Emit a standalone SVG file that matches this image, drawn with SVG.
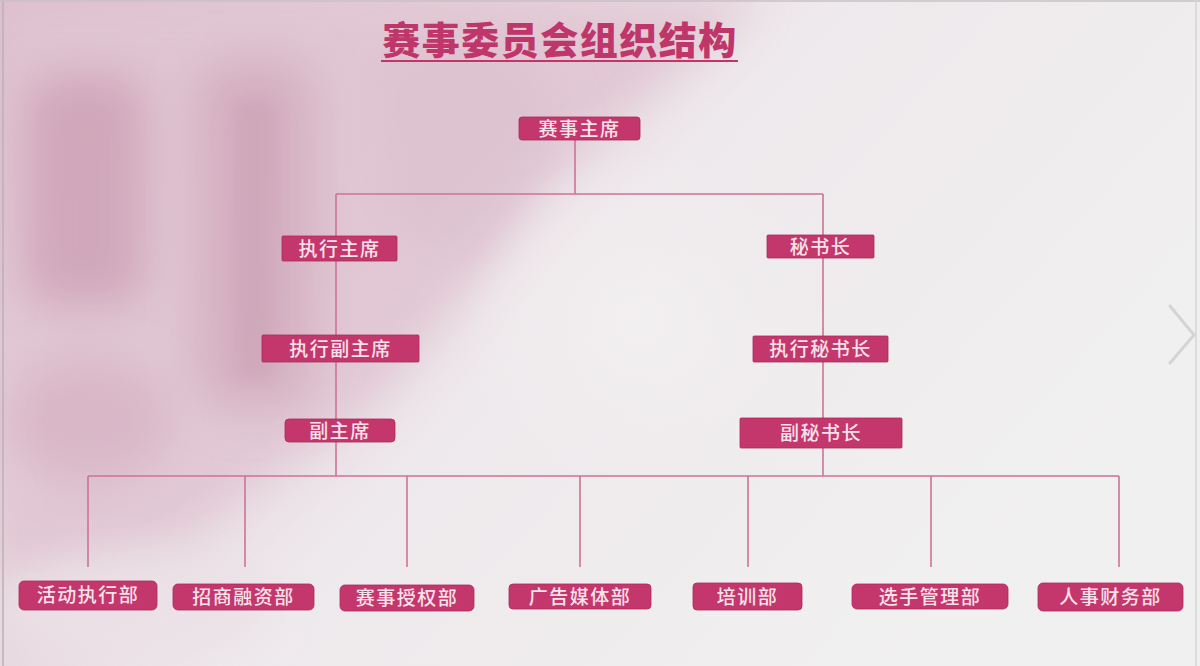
<svg xmlns="http://www.w3.org/2000/svg" width="1200" height="666" viewBox="0 0 1200 666">
<defs>
<filter id="blur20" filterUnits="userSpaceOnUse" x="-200" y="-200" width="1600" height="1066"><feGaussianBlur stdDeviation="22"/></filter>
<filter id="blur8" filterUnits="userSpaceOnUse" x="-200" y="-200" width="1600" height="1066"><feGaussianBlur stdDeviation="9"/></filter>
<linearGradient id="wash" x1="0" y1="0" x2="1" y2="0.5">
<stop offset="0" stop-color="#dcbdcb"/>
<stop offset="0.33" stop-color="#e5d1da"/>
<stop offset="0.55" stop-color="#eee9ec"/>
<stop offset="1" stop-color="#f1f0f0"/>
</linearGradient>
<radialGradient id="light" cx="0.5" cy="0.5" r="0.5">
<stop offset="0" stop-color="#f3f0f1" stop-opacity="0.9"/>
<stop offset="1" stop-color="#f3f0f1" stop-opacity="0"/>
</radialGradient>
<style>
.box{fill:#c4376d;stroke:#a92a5b;stroke-width:0.8}
.lbl{font-family:"Noto Sans CJK SC","Noto Sans",sans-serif;font-size:19px;font-weight:500;fill:#f7e2ea;text-anchor:middle;letter-spacing:1.5px}
.conn{fill:none;stroke:#cc7398;stroke-width:1.6}
</style>
</defs>
<!-- background -->
<rect x="0" y="0" width="1200" height="666" fill="#f1eff0"/>
<rect x="0" y="0" width="1200" height="666" fill="url(#wash)"/>
<g opacity="0.85">
<path d="M0 0 H760 L560 170 L380 400 L180 540 L0 580 Z" fill="#e0c5d2" filter="url(#blur20)"/>
<rect x="25" y="75" width="120" height="230" rx="30" fill="#cfa3b7" filter="url(#blur20)"/>
<rect x="195" y="60" width="120" height="350" rx="40" fill="#d3acbe" filter="url(#blur20)"/>
<rect x="235" y="100" width="40" height="280" fill="#cca2b5" filter="url(#blur8)"/>
<path d="M380 60 L520 40 L560 120 L470 260 L390 230 Z" fill="#dcc0cd" filter="url(#blur20)"/>
<ellipse cx="90" cy="420" rx="80" ry="60" fill="#d8b3c4" filter="url(#blur20)"/>
<ellipse cx="130" cy="610" rx="140" ry="50" fill="#ebe1e6" filter="url(#blur20)"/>
</g>
<ellipse cx="640" cy="320" rx="180" ry="170" fill="url(#light)"/>
<!-- frame -->
<line x1="3" y1="0" x2="3" y2="666" stroke="#b9b2b5" stroke-width="1.5"/>
<line x1="0" y1="1" x2="1200" y2="1" stroke="#c8c0c4" stroke-width="1.5"/>
<line x1="1196" y1="0" x2="1196" y2="666" stroke="#d6d4d5" stroke-width="1.5"/>
<polyline points="1170,306 1194,335 1170,363" fill="none" stroke="#d4d4d4" stroke-width="3" stroke-linecap="round" stroke-linejoin="round"/>
<!-- title -->
<g id="title">
<text x="560" y="54" font-family="Noto Sans CJK SC,sans-serif" font-size="38" font-weight="900" fill="#bf366a" text-anchor="middle" letter-spacing="1.5">赛事委员会组织结构</text>
<line x1="381" y1="61" x2="738" y2="61" stroke="#bf366a" stroke-width="2"/>
</g>
<!-- connectors -->
<g id="connectors">
<path class="conn" d="M575 140 V194 M336 194 H823 M336 194 V476 M823 194 V476 M88 476 H1119"/>
<path class="conn" d="M88 476 V567 M245 476 V567 M407 476 V567 M580 476 V567 M748 476 V567 M931 476 V567 M1119 476 V567"/>
</g>
<!-- nodes -->
<g id="n-chair"><rect class="box" x="519" y="117" width="121" height="23" rx="3"/><text class="lbl" x="579.5" y="135.5">赛事主席</text></g>
<g id="n-exec-chair"><rect class="box" x="282" y="236" width="115" height="25" rx="1"/><text class="lbl" x="339.5" y="255.5">执行主席</text></g>
<g id="n-secgen"><rect class="box" x="767" y="235" width="107" height="23" rx="1"/><text class="lbl" x="820.5" y="253.5">秘书长</text></g>
<g id="n-exec-vice-chair"><rect class="box" x="262" y="335" width="157" height="27" rx="1"/><text class="lbl" x="340.5" y="355.5">执行副主席</text></g>
<g id="n-exec-secgen"><rect class="box" x="753" y="336" width="135" height="26" rx="1"/><text class="lbl" x="820.5" y="355.5">执行秘书长</text></g>
<g id="n-vice-chair"><rect class="box" x="285" y="419" width="110" height="23" rx="4"/><text class="lbl" x="340" y="437.5">副主席</text></g>
<g id="n-vice-secgen"><rect class="box" x="740" y="418" width="162" height="30" rx="1"/><text class="lbl" x="821" y="440">副秘书长</text></g>
<g id="d1"><rect class="box" x="19" y="581" width="138" height="29" rx="5"/><text class="lbl" x="88" y="602">活动执行部</text></g>
<g id="d2"><rect class="box" x="173" y="584" width="141" height="26" rx="5"/><text class="lbl" x="243.5" y="604">招商融资部</text></g>
<g id="d3"><rect class="box" x="340" y="585" width="134" height="26" rx="5"/><text class="lbl" x="407" y="605">赛事授权部</text></g>
<g id="d4"><rect class="box" x="509" y="584" width="142" height="25" rx="4"/><text class="lbl" x="580" y="603.5">广告媒体部</text></g>
<g id="d5"><rect class="box" x="693" y="583" width="109" height="27" rx="4"/><text class="lbl" x="747.5" y="603.5">培训部</text></g>
<g id="d6"><rect class="box" x="852" y="584" width="156" height="25" rx="5"/><text class="lbl" x="930" y="603.5">选手管理部</text></g>
<g id="d7"><rect class="box" x="1038" y="583" width="145" height="28" rx="5"/><text class="lbl" x="1110.5" y="603.5">人事财务部</text></g>
</svg>
